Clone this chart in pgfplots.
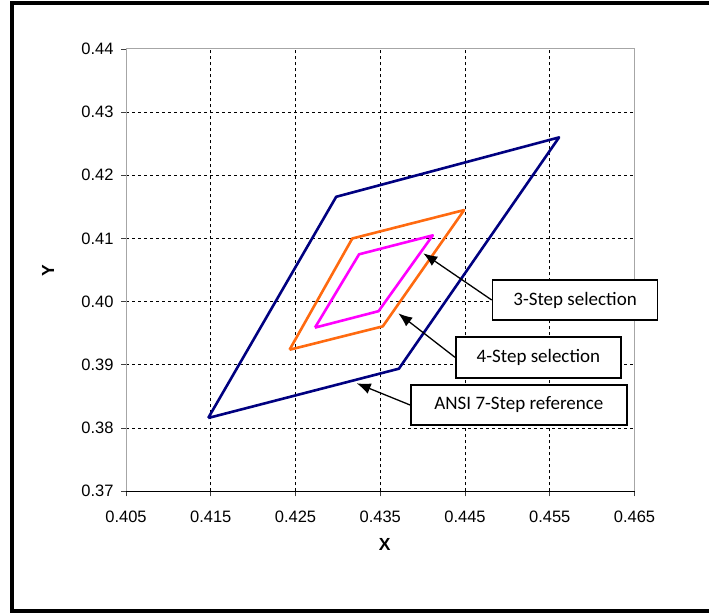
\documentclass[border=0pt]{standalone}
\usepackage{fontspec}
\setmainfont{Liberation Sans}
\newfontfamily\carlito{Carlito}
\usepackage{pgfplots}
\pgfplotsset{compat=1.18}
\usetikzlibrary{arrows.meta}
\definecolor{navyline}{HTML}{000080}
\definecolor{orangeline}{HTML}{FF6A10}
\definecolor{magline}{HTML}{FF00FF}
\begin{document}
\begin{tikzpicture}
\path[use as bounding box] (0,0) rectangle (709pt,613pt);
\begin{axis}[
  at={(126pt,121.7pt)}, anchor=south west,
  scale only axis, width=508.5pt, height=442.4pt,
  xmin=0.405, xmax=0.465, ymin=0.37, ymax=0.44,
  xtick={0.405,0.415,0.425,0.435,0.445,0.455,0.465},
  xticklabels={0.405,0.415,0.425,0.435,0.445,0.455,0.465},
  ytick={0.37,0.38,0.39,0.40,0.41,0.42,0.43,0.44},
  yticklabels={0.37,0.38,0.39,0.40,0.41,0.42,0.43,0.44},
  scaled ticks=false,
  tick align=outside, major tick length=5pt,
  tick style={black!75, line width=0.8pt},
  xtick pos=bottom, ytick pos=left,
  axis line style={draw=gray!70, line width=1pt},
  grid=major,
  major grid style={black, line width=0.9pt, dash pattern=on 3pt off 3pt},
  ticklabel style={font=\fontsize{16.5}{18}\selectfont},
  xticklabel style={yshift=-11pt},
  yticklabel style={xshift=-4pt},
  xlabel={\textbf{X}}, ylabel={\textbf{Y}},
  xlabel style={at={(axis description cs:0.509,-0.121)}, anchor=center, font=\fontsize{17.5}{19}\selectfont},
  ylabel style={at={(axis description cs:-0.153,0.498)}, anchor=center, rotate=0, font=\fontsize{17.5}{19}\selectfont},
  clip=false,
]
\addplot[navyline, line width=2.6pt, line join=round] coordinates {
  (0.4147,0.3816) (0.4298,0.4166) (0.4561,0.4260) (0.4372,0.3894) (0.4147,0.3816)};
\addplot[orangeline, line width=2.6pt, line join=round] coordinates {
  (0.4243,0.3924) (0.4317,0.4100) (0.4449,0.4145) (0.4353,0.3961) (0.4243,0.3924)};
\addplot[magline, line width=2.6pt, line join=round] coordinates {
  (0.4273,0.3959) (0.4325,0.4075) (0.4412,0.4105) (0.4348,0.3985) (0.4273,0.3959)};
\draw[black, line width=1pt] (rel axis cs:0,0) -- (rel axis cs:1,0);
\tikzset{lbl/.style={draw=black, line width=1.8pt, fill=white, anchor=west, inner sep=0pt,
  font=\carlito\fontsize{19}{21}\selectfont}}
\tikzset{arr/.style={black, line width=1.3pt, -{Latex[length=14pt,width=11pt]}}}
\draw[arr] (axis cs:0.44815,0.40027) -- (axis cs:0.44008,0.40766);
\draw[arr] (axis cs:0.44382,0.39120) -- (axis cs:0.43713,0.39816);
\draw[arr] (axis cs:0.43851,0.38366) -- (axis cs:0.43222,0.38709);
\node[lbl, minimum width=165pt, minimum height=40pt] at (axis cs:0.44815,0.40027) {\raisebox{-2pt}{3-Step selection}};
\node[lbl, minimum width=165pt, minimum height=41pt] at (axis cs:0.44382,0.39120) {\raisebox{-2pt}{4-Step selection}};
\node[lbl, minimum width=216pt, minimum height=40pt] at (axis cs:0.43851,0.38366) {\raisebox{-2pt}{ANSI 7-Step reference}};
\end{axis}
\draw[black, line width=4pt] (709pt,610pt) -- (12pt,610pt) -- (12pt,2pt) -- (709pt,2pt);
\end{tikzpicture}
\end{document}
